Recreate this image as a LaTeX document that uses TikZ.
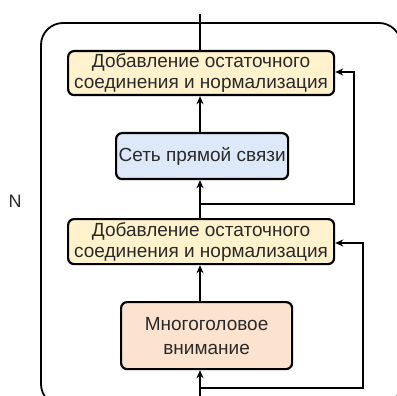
\documentclass[tikz,border=0pt]{standalone}
\usepackage{fontspec}
\setmainfont{Liberation Sans}
\usetikzlibrary{arrows.meta}
\definecolor{addfill}{HTML}{FFF2CC}
\definecolor{ffnfill}{HTML}{DDE9F8}
\definecolor{mhafill}{HTML}{FCE3CF}
\definecolor{txt}{HTML}{2A2A2A}
\tikzset{
  blk/.style={draw=black, line width=2.2pt, rounded corners=6pt, align=center,
    text=txt, font=\fontsize{19}{21}\selectfont, inner sep=0pt, anchor=north west},
  conn/.style={draw=black, line width=2.2pt, -{Stealth[length=8pt,width=7pt]}},
  plain/.style={draw=black, line width=2.2pt}
}
\begin{document}
\begin{tikzpicture}[x=1pt,y=-1pt]
\useasboundingbox (0,0) rectangle (397,396);
\begin{scope}
\clip (0,0) rectangle (397,396);
\draw[line width=1.8pt, rounded corners=22pt] (41,23) rectangle (401,406);
\end{scope}
% boxes
\node[blk, fill=addfill, minimum width=266pt, minimum height=44pt] (an1) at (67,50)
  {Добавление остаточного\\соединения и нормализация};
\node[blk, fill=ffnfill, minimum width=172pt, minimum height=46pt] (ffn) at (115,132)
  {Сеть прямой связи};
\node[blk, fill=addfill, minimum width=266pt, minimum height=45pt] (an2) at (67,218)
  {Добавление остаточного\\соединения и нормализация};
\node[blk, fill=mhafill, minimum width=171pt, minimum height=67pt,
  font=\fontsize{19}{24}\selectfont] (mha) at (120,301)
  {Многоголовое\\внимание};
\node[text=txt, font=\fontsize{18}{20}\selectfont] (n) at (15,201) {N};
% coordinates
\coordinate (top) at (200,14);
\coordinate (bot) at (200,396);
\coordinate (b1) at (200,204);
\coordinate (r1a) at (354,204);
\coordinate (r1b) at (354,72);
\coordinate (b2) at (200,388);
\coordinate (r2a) at (363,388);
\coordinate (r2b) at (363,243);
% connectors
\draw[plain] (an1.north -| top) -- (top);
\draw[conn] (ffn.north -| top) -- (an1.south -| top);
\draw[conn] (an2.north -| top) -- (ffn.south -| top);
\draw[conn] (mha.north -| top) -- (an2.south -| top);
\draw[conn] (bot) -- (mha.south -| top);
\draw[conn] (b1) -- (r1a) -- (r1b) -- (an1.east |- r1b);
\draw[conn] (b2) -- (r2a) -- (r2b) -- (an2.east |- r2b);
\end{tikzpicture}
\end{document}
